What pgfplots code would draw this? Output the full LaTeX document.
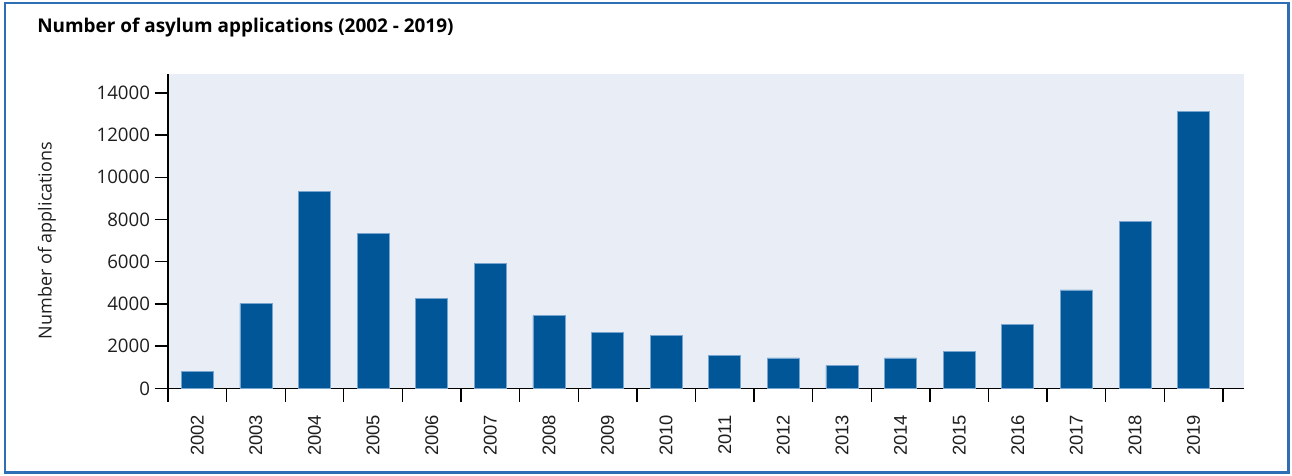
\documentclass[border=0pt]{standalone}
\usepackage{fontspec}
\setmainfont{Open Sans}
\newfontfamily\arialf{Liberation Sans}
\usepackage{pgfplots}
\pgfplotsset{compat=1.18}
\definecolor{barblue}{RGB}{0,86,151}
\definecolor{baredge}{RGB}{120,165,208}
\definecolor{plotbg}{RGB}{233,237,246}
\definecolor{framebl}{RGB}{46,110,180}
\definecolor{txt}{RGB}{30,30,30}
\begin{document}
\begin{tikzpicture}
\useasboundingbox (0pt,0pt) rectangle (969pt,356.25pt);
\draw[framebl, line width=1.6pt] (3.75pt,1.9pt) rectangle (966.4pt,354pt);
\node[anchor=base west, inner sep=0pt, font=\fontsize{14.2}{16}\selectfont\bfseries, text=black] at (27.75pt,332pt) {Number of asylum applications (2002 - 2019)};
\begin{axis}[
  at={(126pt,65pt)}, anchor=south west,
  scale only axis, width=807pt, height=235.7pt,
  xmin=-0.5, xmax=17.86, ymin=0, ymax=14890,
  axis lines*=left,
  axis line style={line width=1pt, black},
  axis background/.style={fill=plotbg},
  ytick={0,2000,4000,6000,8000,10000,12000,14000},
  xtick={0,...,17},
  xticklabels={2002,2003,2004,2005,2006,2007,2008,2009,2010,2011,2012,2013,2014,2015,2016,2017,2018,2019},
  major x tick style={draw=none},
  minor xtick={-0.5,0.5,...,17.5},
  major tick length=10pt, minor tick length=10pt,
  tick align=outside,
  tick style={line width=1pt, black},
  /pgf/number format/assume math mode=true,
  /pgf/number format/1000 sep={},
  scaled y ticks=false,
  yticklabel style={font=\fontsize{14}{16}\selectfont, text=txt},
  xticklabel style={rotate=90, anchor=east, font=\arialf\fontsize{13.8}{15}\selectfont, text=txt},
  xticklabel shift=6.5pt,
  ylabel={Number of applications},
  ylabel style={at={(axis description cs:-0.1125,0.47)}, anchor=center, font=\fontsize{13.5}{16}\selectfont, text=txt},
]
\addplot[ybar, bar width=0.546, fill=barblue, draw=baredge, line width=0.5pt] coordinates {
(0,800) (1,4020) (2,9320) (3,7340) (4,4260) (5,5930) (6,3450) (7,2660) (8,2500)
(9,1550) (10,1440) (11,1080) (12,1440) (13,1760) (14,3020) (15,4660) (16,7900) (17,13120)
};
\end{axis}
\end{tikzpicture}
\end{document}
